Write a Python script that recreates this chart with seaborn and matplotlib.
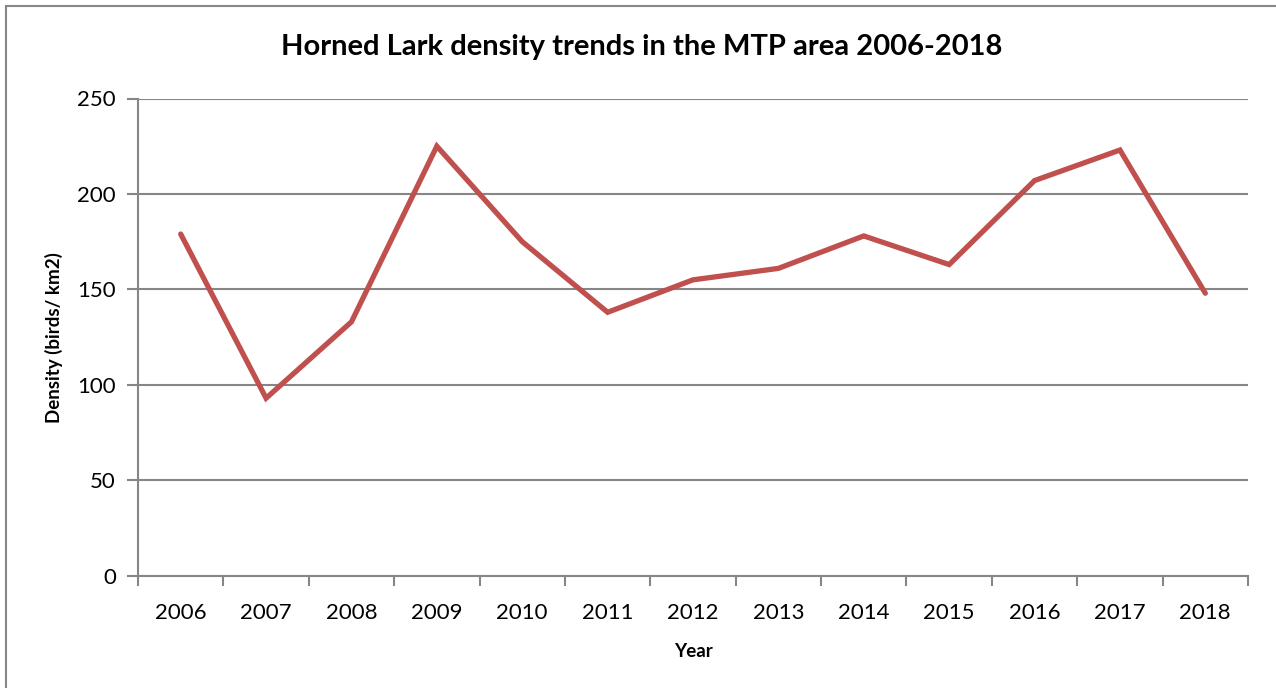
import numpy as np
import pandas as pd
import matplotlib
matplotlib.use("Agg")
import matplotlib.pyplot as plt
from matplotlib.patches import Rectangle
import seaborn as sns

# Horned Lark density (birds per km2) by survey year
years = ["2006", "2007", "2008", "2009", "2010", "2011", "2012",
         "2013", "2014", "2015", "2016", "2017", "2018"]
density = [179, 93, 133, 225, 175, 138, 155, 161, 178, 163, 207, 223, 148]
y_ticks = [0, 50, 100, 150, 200, 250]

df = pd.DataFrame({"pos": np.arange(len(years)), "density": density})

sns.set_style("white")
plt.rcParams["font.family"] = ["Lato", "DejaVu Sans"]

W, H = 1276, 688
fig = plt.figure(figsize=(W / 100, H / 100), dpi=100)
ax = fig.add_axes([138 / W, 1 - 575.7 / H, (1248 - 138) / W, (575.7 - 98.5) / H])

grid_c = "#868686"
ax.set_ylim(0, 250)
ax.set_xlim(-0.5, len(years) - 0.5)
ax.set_yticks(y_ticks)
ax.yaxis.grid(True, color=grid_c, linewidth=1.5)
ax.set_axisbelow(True)

sns.lineplot(data=df, x="pos", y="density", ax=ax, color="#C0504D",
             linewidth=3.8, solid_joinstyle="miter", solid_capstyle="round")

for side in ["top", "right"]:
    ax.spines[side].set_visible(False)
for side in ["left", "bottom"]:
    ax.spines[side].set_color(grid_c)
    ax.spines[side].set_linewidth(1.5)

# tick marks sit between categories; labels sit at the category centres
ax.set_xticks(np.arange(-0.5, len(years)), minor=False)
ax.set_xticklabels([])
ax.set_xticks(np.arange(len(years)), minor=True)
ax.set_xticklabels(years, minor=True, fontsize=16)
ax.tick_params(axis="x", which="both", bottom=True)
ax.tick_params(axis="y", which="major", left=True)
ax.tick_params(axis="x", which="major", length=7, width=1.5, color=grid_c, direction="out")
ax.tick_params(axis="x", which="minor", length=0, pad=20)
ax.tick_params(axis="y", length=8, width=1.5, color=grid_c, direction="out",
               labelsize=16, pad=8)
ax.tick_params(axis="both", which="both", labelcolor="black")

ax.set_xlabel("Year", fontsize=13.5, fontweight="bold", labelpad=14, color="black")
ax.set_ylabel("Density (birds/ km2)", fontsize=13.5, fontweight="bold", labelpad=10,
              color="black")

fig.text(641.5 / W, 1 - 47 / H, "Horned Lark density trends in the MTP area 2006-2018",
         ha="center", va="center", fontsize=21, fontweight="bold", color="black")

# chart frame
fig.patches.append(Rectangle((6 / W, -0.05), 1.1, 1 - 6 / H + 0.05,
                             transform=fig.transFigure, fill=False,
                             edgecolor="#878787", linewidth=1.5))

fig.savefig("out.png", dpi=100)
